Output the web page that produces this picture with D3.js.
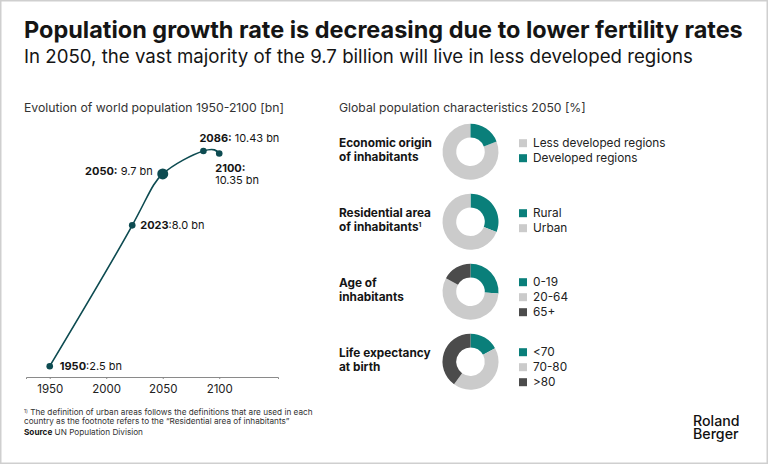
<!DOCTYPE html>
<html>
<head>
<meta charset="utf-8">
<script src="https://cdn.jsdelivr.net/npm/d3@7"></script>
<style>
  body { margin: 0; background: #fff; }
  svg { display: block; font-family: Inter, "DejaVu Sans", sans-serif; }
</style>
</head>
<body>
<svg id="chart" width="768" height="464"></svg>
<script>
// ---- Data
const years = [1950, 2023, 2050, 2086, 2100];
const population = [2.5, 8.0, 9.7, 10.43, 10.35];
const valueLabels = ["2.5 bn", "8.0 bn", "9.7 bn", "10.43 bn", "10.35 bn"];
const xTicks = [1950, 2000, 2050, 2100];

const economicOrigin = ["Less developed regions", "Developed regions"];
const economicShares = [81, 19];
const residentialArea = ["Rural", "Urban"];
const residentialShares = [31, 69];
const ageGroups = ["0-19", "20-64", "65+"];
const ageShares = [26, 57, 17];
const lifeExpectancy = ["<70", "70-80", ">80"];
const lifeShares = [17, 43, 40];

const TEAL = "#0a7f7a", LIGHT = "#cbcbcb", DARK = "#4b4b4b", LINE = "#0d4b51", INK = "#151515";

const svg = d3.select("#chart");

// scale font-size so that a text line gets a given width
function fit(sel, w) {
    const len = sel.node().getComputedTextLength();
    const fs = parseFloat(sel.attr("font-size"));
    sel.attr("font-size", fs * w / len);
    return sel;
}

// frame
svg.append("rect").attr("x", 0.75).attr("y", 0.75).attr("width", 766.5).attr("height", 462.5)
    .attr("fill", "none").attr("stroke", "#cfcfcf").attr("stroke-width", 1.5);

// ---- Titles
fit(svg.append("text").attr("x", 24).attr("y", 38).attr("font-size", 18).attr("font-weight", 700)
    .attr("fill", INK).text("Population growth rate is decreasing due to lower fertility rates"), 719);
fit(svg.append("text").attr("x", 24).attr("y", 63).attr("font-size", 18).attr("font-weight", 400)
    .attr("fill", INK).text("In 2050, the vast majority of the 9.7 billion will live in less developed regions"), 669);

fit(svg.append("text").attr("x", 24).attr("y", 112).attr("font-size", 11).attr("fill", "#333")
    .text("Evolution of world population 1950-2100 [bn]"), 260);
fit(svg.append("text").attr("x", 339).attr("y", 112).attr("font-size", 11).attr("fill", "#333")
    .text("Global population characteristics 2050 [%]"), 247);

// ---- Line chart
const mapX = d3.scaleLinear().domain([1929, 2152]).range([26, 278]);
const mapY = d3.scalePow().exponent(1.3).domain([0, 12]).range([406, 100]);

const xAxis = d3.axisBottom(mapX).tickValues(xTicks).tickFormat(d3.format("d")).tickSize(2).tickPadding(6);
const gx = svg.append("g").attr("transform", "translate(0, 377)").call(xAxis);
gx.select(".domain").attr("stroke", "#8a8a8a");
gx.selectAll(".tick line").attr("stroke", "#8a8a8a");
gx.selectAll(".tick text").attr("font-size", 11.5).attr("fill", "#222")
    .attr("font-family", "Inter, 'DejaVu Sans', sans-serif");

const points = years.map((y, i) => ({ year: y, pop: population[i], label: valueLabels[i] }));

const line = d3.line().x(d => mapX(d.year)).y(d => mapY(d.pop)).curve(d3.curveNatural);
svg.append("path").datum(points).attr("fill", "none").attr("stroke", LINE)
    .attr("stroke-width", 1.6).attr("d", line);

svg.append("g").selectAll("circle").data(points).enter().append("circle")
    .attr("cx", d => mapX(d.year)).attr("cy", d => mapY(d.pop))
    .attr("r", d => d.year === 2050 ? 5.5 : 3.3).attr("fill", LINE);

// point labels
const labelPos = {
    1950: { dx: 10, dy: 4, anchor: "start", sep: ":" },
    2023: { dx: 8, dy: 4, anchor: "start", sep: ":" },
    2050: { dx: -10, dy: 1, anchor: "end", sep: ": " },
    2086: { dx: -4, dy: -9, anchor: "start", sep: ": " },
    2100: { dx: -4, dy: 18, anchor: "start", sep: null }
};
const labelGroup = svg.append("g").attr("fill", INK).attr("font-size", 12);
const labelTexts = [];
points.forEach(d => {
    const p = labelPos[d.year];
    const t = labelGroup.append("text").attr("x", mapX(d.year) + p.dx).attr("y", mapY(d.pop) + p.dy)
        .attr("text-anchor", p.anchor);
    if (p.sep === null) {
        t.append("tspan").attr("font-weight", 700).text(d.year + ":");
        t.append("tspan").attr("class", "second").attr("x", mapX(d.year) + p.dx).attr("dy", 13).text(d.label);
    } else {
        t.append("tspan").attr("font-weight", 700).text(d.year + (p.sep === ":" ? "" : ":"));
        t.append("tspan").text((p.sep === ":" ? ":" : " ") + d.label);
    }
    labelTexts.push(t);
});
// size labels so that "2086: 10.43 bn" is as wide as in the original
const lw = labelTexts[3].node().getComputedTextLength();
const labelSize = 12 * 80 / lw;
labelGroup.attr("font-size", labelSize);
labelGroup.selectAll(".second").attr("dy", labelSize * 1.1);

// ---- Donuts
const panels = [
    { title: ["Economic origin", "of inhabitants"], names: economicOrigin, values: economicShares, colors: [LIGHT, TEAL] },
    { title: ["Residential area", "of inhabitants"], names: residentialArea, values: residentialShares, colors: [TEAL, LIGHT], note: true },
    { title: ["Age of", "inhabitants"], names: ageGroups, values: ageShares, colors: [TEAL, LIGHT, DARK] },
    { title: ["Life expectancy", "at birth"], names: lifeExpectancy, values: lifeShares, colors: [TEAL, LIGHT, DARK] }
];
const toneRank = c => [TEAL, LIGHT, DARK].indexOf(c);
const pie = d3.pie().value(d => d.value).sort((a, b) => toneRank(a.color) - toneRank(b.color));
const arc = d3.arc().innerRadius(14.3).outerRadius(28);

panels.forEach((p, k) => {
    const cy = 151.7 + k * 70;
    const rows = p.names.map((n, i) => ({ name: n, value: p.values[i], color: p.colors[i] }));

    const g = svg.append("g").attr("transform", `translate(470.5, ${cy})`);
    g.selectAll("path").data(pie(rows)).enter().append("path")
        .attr("d", arc).attr("fill", d => d.data.color);

    // row title
    const firstY = cy - 5;
    p.title.forEach((s, i) => {
        const t = svg.append("text").attr("x", 339).attr("y", firstY + i * 14)
            .attr("font-size", 11.8).attr("font-weight", 700).attr("fill", INK).text(s);
        if (p.note && i === 1) t.append("tspan").attr("font-size", 6.5).attr("dy", -4).text("1");
    });

    // legend
    const legY = rows.length === 2 ? cy - 5 : cy - 6;
    const leg = svg.append("g").selectAll("g").data(rows).enter().append("g")
        .attr("transform", (d, i) => `translate(519, ${legY + i * 15})`);
    leg.append("rect").attr("x", 0).attr("y", -7.5).attr("width", 8).attr("height", 8).attr("fill", d => d.color);
    leg.append("text").attr("x", 14).attr("y", 0).attr("font-size", 11.8).attr("fill", "#222").text(d => d.name);
});

// ---- Footnote & source
const fn = svg.append("text").attr("x", 24).attr("y", 415).attr("font-size", 7.5).attr("fill", "#333");
fn.append("tspan").attr("font-size", 5).attr("dy", -2.5).text("1)");
fn.append("tspan").attr("dy", 2.5).text(" The definition of urban areas follows the definitions that are used in each");
fit(fn, 289);
const fs = fn.attr("font-size");
svg.append("text").attr("x", 24).attr("y", 424).attr("font-size", fs).attr("fill", "#333")
    .text("country as the footnote refers to the \u201CResidential area of inhabitants\u201D");
const src = svg.append("text").attr("x", 24).attr("y", 435).attr("font-size", fs).attr("fill", "#333");
src.append("tspan").attr("font-weight", 700).attr("fill", INK).text("Source");
src.append("tspan").text(" UN Population Division");

// logo text (one element, two lines)
const rb = svg.append("text").attr("x", 693).attr("y", 426).attr("font-size", 14.2).attr("font-weight", 500).attr("fill", "#111");
rb.append("tspan").text("Roland");
rb.append("tspan").attr("x", 693).attr("dy", 13.2).text("Berger");
</script>
</body>
</html>
